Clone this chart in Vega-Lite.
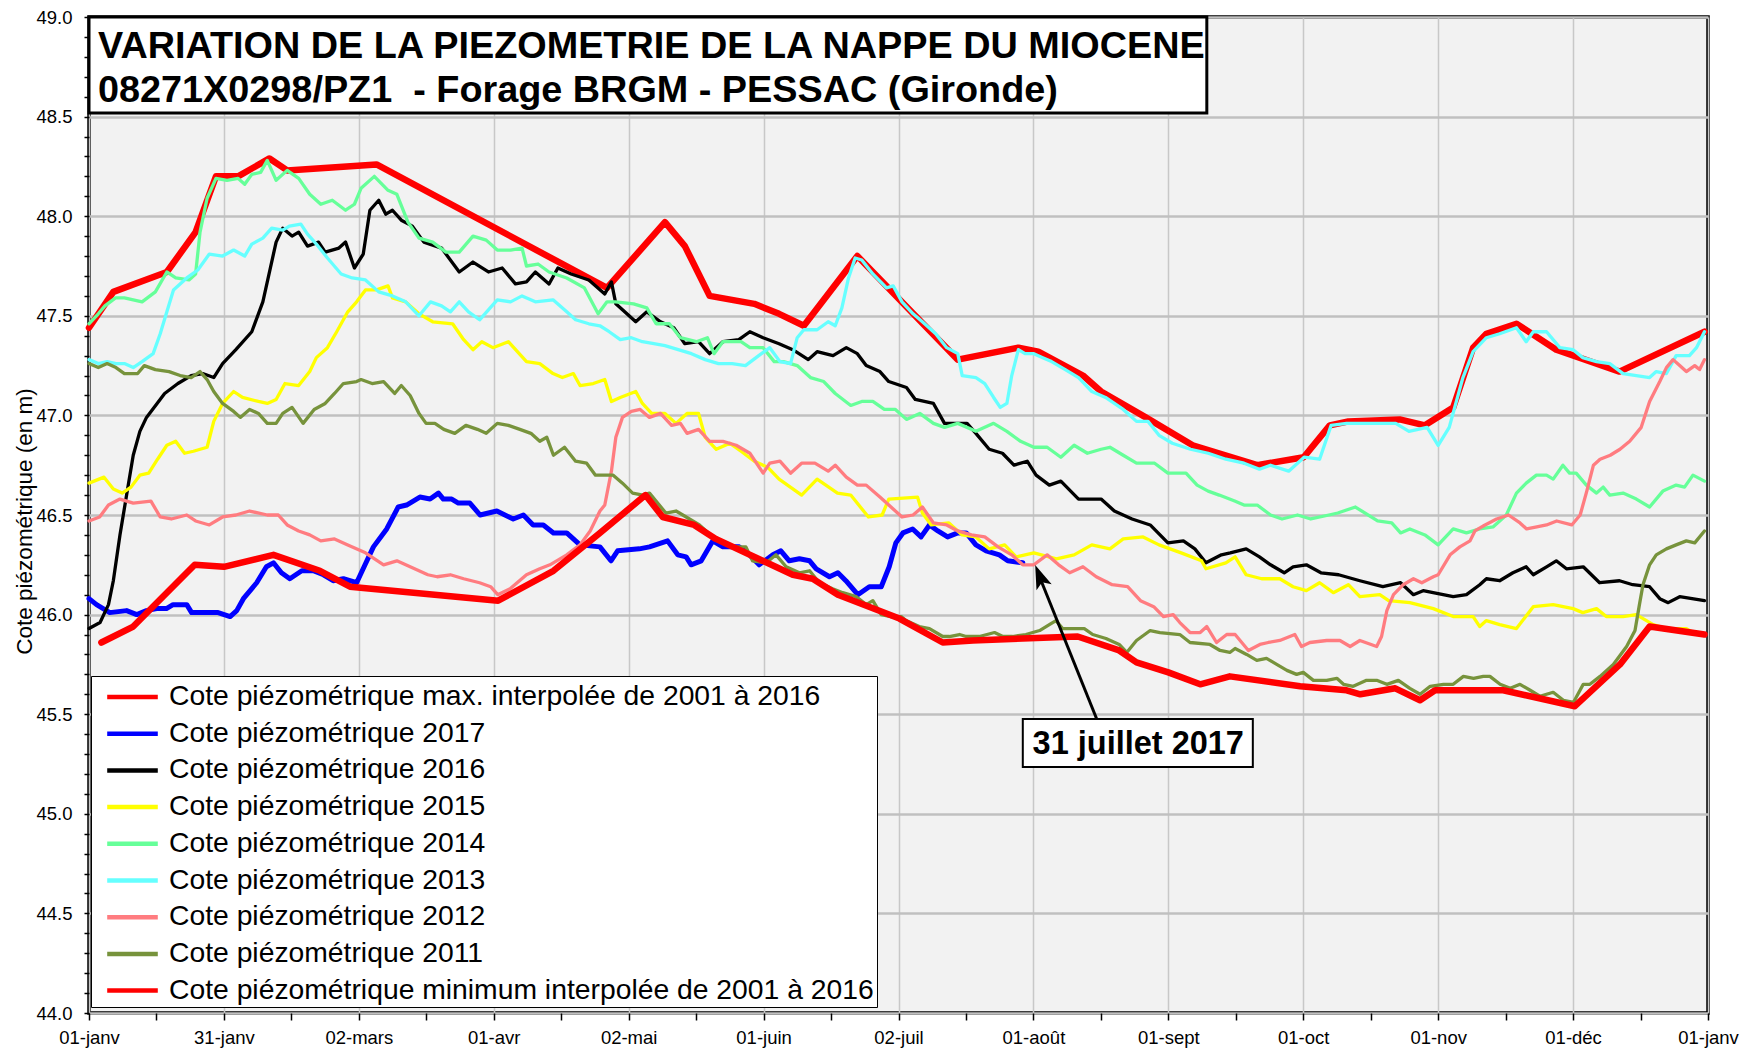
{
"$schema": "https://vega.github.io/schema/vega-lite/v6.json",
"width": 1619,
"height": 996,
"autosize": "none",
"padding": {"left": 89, "top": 17, "right": 35, "bottom": 50},
"background": "#ffffff",
"config": {
  "view": {"fill": "#f2f2f2", "stroke": "#000000", "strokeWidth": 3.5},
  "font": "Liberation Sans"
},
"data": {"values": [
{"s":"max","d":0,"v":47.44},{"s":"max","d":5.5,"v":47.62},{"s":"max","d":17.6,"v":47.72},{"s":"max","d":24.1,"v":47.92},{"s":"max","d":28.7,"v":48.2},{"s":"max","d":33.7,"v":48.2},{"s":"max","d":40.8,"v":48.29},{"s":"max","d":44.8,"v":48.23},{"s":"max","d":65,"v":48.26},{"s":"max","d":117.1,"v":47.64},{"s":"max","d":130.2,"v":47.97},{"s":"max","d":134.7,"v":47.85},{"s":"max","d":140.3,"v":47.6},{"s":"max","d":150.4,"v":47.56},{"s":"max","d":156,"v":47.51},{"s":"max","d":161.6,"v":47.45},{"s":"max","d":173.7,"v":47.8},{"s":"max","d":196.4,"v":47.28},{"s":"max","d":210.1,"v":47.34},{"s":"max","d":214.6,"v":47.32},{"s":"max","d":224.7,"v":47.2},{"s":"max","d":228.8,"v":47.12},{"s":"max","d":238.9,"v":46.99},{"s":"max","d":249.5,"v":46.85},{"s":"max","d":264.1,"v":46.75},{"s":"max","d":274.6,"v":46.79},{"s":"max","d":280.5,"v":46.95},{"s":"max","d":284.7,"v":46.97},{"s":"max","d":296.3,"v":46.98},{"s":"max","d":302,"v":46.95},{"s":"max","d":308.4,"v":47.04},{"s":"max","d":312.9,"v":47.34},{"s":"max","d":315.9,"v":47.41},{"s":"max","d":322.7,"v":47.46},{"s":"max","d":331.7,"v":47.33},{"s":"max","d":346,"v":47.22},{"s":"max","d":365.2,"v":47.42},
{"s":"2017","d":0,"v":46.08},{"s":"2017","d":1.7,"v":46.05},{"s":"2017","d":4.7,"v":46.01},{"s":"2017","d":8.5,"v":46.02},{"s":"2017","d":10.8,"v":46.0},{"s":"2017","d":13,"v":46.02},{"s":"2017","d":15.3,"v":46.03},{"s":"2017","d":17.5,"v":46.03},{"s":"2017","d":19,"v":46.05},{"s":"2017","d":22.1,"v":46.05},{"s":"2017","d":23.2,"v":46.01},{"s":"2017","d":29.2,"v":46.01},{"s":"2017","d":31.9,"v":45.99},{"s":"2017","d":33.4,"v":46.02},{"s":"2017","d":34.9,"v":46.08},{"s":"2017","d":37.9,"v":46.16},{"s":"2017","d":40.1,"v":46.24},{"s":"2017","d":41.7,"v":46.26},{"s":"2017","d":43.5,"v":46.21},{"s":"2017","d":45.4,"v":46.18},{"s":"2017","d":48.1,"v":46.22},{"s":"2017","d":50.7,"v":46.22},{"s":"2017","d":53,"v":46.2},{"s":"2017","d":55.2,"v":46.17},{"s":"2017","d":57.5,"v":46.18},{"s":"2017","d":60.5,"v":46.16},{"s":"2017","d":62.4,"v":46.25},{"s":"2017","d":64.3,"v":46.34},{"s":"2017","d":67.3,"v":46.43},{"s":"2017","d":69.9,"v":46.54},{"s":"2017","d":71.8,"v":46.55},{"s":"2017","d":73.3,"v":46.57},{"s":"2017","d":74.8,"v":46.59},{"s":"2017","d":77.1,"v":46.58},{"s":"2017","d":79,"v":46.61},{"s":"2017","d":80.1,"v":46.58},{"s":"2017","d":82,"v":46.58},{"s":"2017","d":83.5,"v":46.56},{"s":"2017","d":86.1,"v":46.56},{"s":"2017","d":88.4,"v":46.5},{"s":"2017","d":92.2,"v":46.52},{"s":"2017","d":95.9,"v":46.48},{"s":"2017","d":98.2,"v":46.5},{"s":"2017","d":100.4,"v":46.45},{"s":"2017","d":102.7,"v":46.45},{"s":"2017","d":105,"v":46.41},{"s":"2017","d":108,"v":46.41},{"s":"2017","d":111,"v":46.35},{"s":"2017","d":115.5,"v":46.34},{"s":"2017","d":118,"v":46.27},{"s":"2017","d":119.5,"v":46.32},{"s":"2017","d":124.4,"v":46.33},{"s":"2017","d":126.7,"v":46.34},{"s":"2017","d":130.8,"v":46.37},{"s":"2017","d":133.1,"v":46.3},{"s":"2017","d":135,"v":46.29},{"s":"2017","d":136.1,"v":46.25},{"s":"2017","d":138.4,"v":46.27},{"s":"2017","d":141,"v":46.37},{"s":"2017","d":143.3,"v":46.34},{"s":"2017","d":147,"v":46.34},{"s":"2017","d":149.3,"v":46.3},{"s":"2017","d":151.5,"v":46.25},{"s":"2017","d":154.6,"v":46.3},{"s":"2017","d":156.4,"v":46.32},{"s":"2017","d":158.3,"v":46.27},{"s":"2017","d":160.6,"v":46.28},{"s":"2017","d":162.9,"v":46.27},{"s":"2017","d":164.4,"v":46.23},{"s":"2017","d":167.4,"v":46.19},{"s":"2017","d":169.3,"v":46.21},{"s":"2017","d":171.1,"v":46.17},{"s":"2017","d":173.8,"v":46.1},{"s":"2017","d":176.4,"v":46.14},{"s":"2017","d":179.1,"v":46.14},{"s":"2017","d":180.9,"v":46.24},{"s":"2017","d":182.4,"v":46.36},{"s":"2017","d":184,"v":46.41},{"s":"2017","d":186.2,"v":46.43},{"s":"2017","d":188.1,"v":46.39},{"s":"2017","d":190,"v":46.45},{"s":"2017","d":191.9,"v":46.42},{"s":"2017","d":194.1,"v":46.39},{"s":"2017","d":196.4,"v":46.41},{"s":"2017","d":198.3,"v":46.41},{"s":"2017","d":200.5,"v":46.35},{"s":"2017","d":202.8,"v":46.32},{"s":"2017","d":205.8,"v":46.3},{"s":"2017","d":207.7,"v":46.27},{"s":"2017","d":211.1,"v":46.26},
{"s":"2016","d":0,"v":45.93},{"s":"2016","d":2.5,"v":45.96},{"s":"2016","d":4.4,"v":46.05},{"s":"2016","d":5.5,"v":46.17},{"s":"2016","d":7,"v":46.4},{"s":"2016","d":8.5,"v":46.6},{"s":"2016","d":10,"v":46.8},{"s":"2016","d":11.5,"v":46.92},{"s":"2016","d":13,"v":46.99},{"s":"2016","d":17.1,"v":47.11},{"s":"2016","d":20.1,"v":47.16},{"s":"2016","d":23.1,"v":47.2},{"s":"2016","d":25.7,"v":47.21},{"s":"2016","d":28.2,"v":47.19},{"s":"2016","d":30.2,"v":47.26},{"s":"2016","d":33.2,"v":47.33},{"s":"2016","d":36.8,"v":47.42},{"s":"2016","d":39.3,"v":47.57},{"s":"2016","d":42.3,"v":47.87},{"s":"2016","d":43.8,"v":47.94},{"s":"2016","d":45.9,"v":47.9},{"s":"2016","d":47.4,"v":47.92},{"s":"2016","d":49.4,"v":47.85},{"s":"2016","d":51.9,"v":47.87},{"s":"2016","d":53.4,"v":47.82},{"s":"2016","d":56.5,"v":47.84},{"s":"2016","d":58,"v":47.87},{"s":"2016","d":60,"v":47.74},{"s":"2016","d":62,"v":47.81},{"s":"2016","d":63.5,"v":48.03},{"s":"2016","d":65.5,"v":48.08},{"s":"2016","d":67.1,"v":48.01},{"s":"2016","d":68.6,"v":48.03},{"s":"2016","d":70.6,"v":47.98},{"s":"2016","d":73.1,"v":47.95},{"s":"2016","d":75.7,"v":47.87},{"s":"2016","d":79.7,"v":47.84},{"s":"2016","d":83.7,"v":47.72},{"s":"2016","d":86.8,"v":47.77},{"s":"2016","d":90.3,"v":47.72},{"s":"2016","d":93.4,"v":47.74},{"s":"2016","d":96.4,"v":47.66},{"s":"2016","d":98.9,"v":47.67},{"s":"2016","d":100.9,"v":47.72},{"s":"2016","d":104,"v":47.66},{"s":"2016","d":106,"v":47.74},{"s":"2016","d":109,"v":47.71},{"s":"2016","d":113,"v":47.68},{"s":"2016","d":116.6,"v":47.61},{"s":"2016","d":118.1,"v":47.67},{"s":"2016","d":119.1,"v":47.56},{"s":"2016","d":123.6,"v":47.47},{"s":"2016","d":126.1,"v":47.52},{"s":"2016","d":129.2,"v":47.47},{"s":"2016","d":132.2,"v":47.44},{"s":"2016","d":134.7,"v":47.36},{"s":"2016","d":137.8,"v":47.37},{"s":"2016","d":140.3,"v":47.31},{"s":"2016","d":143.3,"v":47.37},{"s":"2016","d":146.9,"v":47.38},{"s":"2016","d":149.4,"v":47.42},{"s":"2016","d":152.4,"v":47.39},{"s":"2016","d":156,"v":47.36},{"s":"2016","d":159.1,"v":47.33},{"s":"2016","d":162.6,"v":47.28},{"s":"2016","d":164.6,"v":47.32},{"s":"2016","d":168.2,"v":47.3},{"s":"2016","d":171.2,"v":47.34},{"s":"2016","d":173.7,"v":47.31},{"s":"2016","d":175.7,"v":47.25},{"s":"2016","d":178.8,"v":47.22},{"s":"2016","d":180.8,"v":47.17},{"s":"2016","d":184.8,"v":47.14},{"s":"2016","d":186.8,"v":47.08},{"s":"2016","d":190.9,"v":47.06},{"s":"2016","d":193.4,"v":46.96},{"s":"2016","d":198.5,"v":46.96},{"s":"2016","d":200.5,"v":46.91},{"s":"2016","d":203.5,"v":46.83},{"s":"2016","d":206.5,"v":46.81},{"s":"2016","d":209.1,"v":46.75},{"s":"2016","d":212.1,"v":46.77},{"s":"2016","d":214.1,"v":46.7},{"s":"2016","d":217.1,"v":46.65},{"s":"2016","d":219.7,"v":46.67},{"s":"2016","d":223.7,"v":46.58},{"s":"2016","d":228.8,"v":46.58},{"s":"2016","d":231.8,"v":46.52},{"s":"2016","d":235.8,"v":46.48},{"s":"2016","d":239.9,"v":46.45},{"s":"2016","d":243.9,"v":46.36},{"s":"2016","d":247.4,"v":46.37},{"s":"2016","d":250,"v":46.33},{"s":"2016","d":252.5,"v":46.26},{"s":"2016","d":256,"v":46.3},{"s":"2016","d":258,"v":46.31},{"s":"2016","d":261.6,"v":46.33},{"s":"2016","d":264.6,"v":46.29},{"s":"2016","d":267.1,"v":46.25},{"s":"2016","d":270.2,"v":46.21},{"s":"2016","d":272.2,"v":46.24},{"s":"2016","d":275.2,"v":46.25},{"s":"2016","d":278.5,"v":46.21},{"s":"2016","d":282.5,"v":46.2},{"s":"2016","d":287.3,"v":46.17},{"s":"2016","d":292.5,"v":46.14},{"s":"2016","d":296.5,"v":46.16},{"s":"2016","d":299.4,"v":46.1},{"s":"2016","d":301.6,"v":46.12},{"s":"2016","d":308.4,"v":46.09},{"s":"2016","d":311.4,"v":46.1},{"s":"2016","d":314.4,"v":46.15},{"s":"2016","d":315.9,"v":46.18},{"s":"2016","d":318.9,"v":46.17},{"s":"2016","d":321.9,"v":46.21},{"s":"2016","d":324.9,"v":46.24},{"s":"2016","d":326.5,"v":46.2},{"s":"2016","d":329.5,"v":46.24},{"s":"2016","d":331.7,"v":46.27},{"s":"2016","d":334,"v":46.23},{"s":"2016","d":337.8,"v":46.24},{"s":"2016","d":341.5,"v":46.16},{"s":"2016","d":346,"v":46.17},{"s":"2016","d":349,"v":46.15},{"s":"2016","d":352.8,"v":46.14},{"s":"2016","d":355.1,"v":46.08},{"s":"2016","d":357,"v":46.06},{"s":"2016","d":359.6,"v":46.09},{"s":"2016","d":365.2,"v":46.07},
{"s":"2015","d":0,"v":46.66},{"s":"2015","d":3.4,"v":46.69},{"s":"2015","d":5.5,"v":46.63},{"s":"2015","d":7.5,"v":46.61},{"s":"2015","d":9.5,"v":46.64},{"s":"2015","d":11.5,"v":46.7},{"s":"2015","d":13.5,"v":46.71},{"s":"2015","d":15.5,"v":46.78},{"s":"2015","d":17.6,"v":46.85},{"s":"2015","d":19.6,"v":46.87},{"s":"2015","d":21.6,"v":46.81},{"s":"2015","d":23.6,"v":46.82},{"s":"2015","d":26.7,"v":46.84},{"s":"2015","d":28.2,"v":46.97},{"s":"2015","d":30.2,"v":47.06},{"s":"2015","d":32.7,"v":47.12},{"s":"2015","d":34.7,"v":47.09},{"s":"2015","d":38.3,"v":47.07},{"s":"2015","d":40.3,"v":47.06},{"s":"2015","d":42.3,"v":47.08},{"s":"2015","d":44.3,"v":47.16},{"s":"2015","d":47.4,"v":47.15},{"s":"2015","d":49.9,"v":47.22},{"s":"2015","d":51.4,"v":47.29},{"s":"2015","d":53.9,"v":47.34},{"s":"2015","d":56,"v":47.42},{"s":"2015","d":58.5,"v":47.52},{"s":"2015","d":60.5,"v":47.57},{"s":"2015","d":62.5,"v":47.63},{"s":"2015","d":65,"v":47.63},{"s":"2015","d":67.6,"v":47.65},{"s":"2015","d":68.6,"v":47.59},{"s":"2015","d":71.6,"v":47.57},{"s":"2015","d":74.6,"v":47.51},{"s":"2015","d":77.7,"v":47.47},{"s":"2015","d":82.2,"v":47.46},{"s":"2015","d":84.7,"v":47.38},{"s":"2015","d":86.8,"v":47.33},{"s":"2015","d":88.8,"v":47.37},{"s":"2015","d":91.3,"v":47.34},{"s":"2015","d":94.8,"v":47.37},{"s":"2015","d":98.9,"v":47.27},{"s":"2015","d":101.9,"v":47.26},{"s":"2015","d":104.9,"v":47.21},{"s":"2015","d":107,"v":47.19},{"s":"2015","d":109.5,"v":47.21},{"s":"2015","d":111,"v":47.15},{"s":"2015","d":114,"v":47.16},{"s":"2015","d":116.6,"v":47.18},{"s":"2015","d":118.1,"v":47.07},{"s":"2015","d":120.1,"v":47.09},{"s":"2015","d":123.6,"v":47.12},{"s":"2015","d":125.1,"v":47.06},{"s":"2015","d":127.2,"v":47.01},{"s":"2015","d":130.2,"v":47.01},{"s":"2015","d":132.7,"v":46.96},{"s":"2015","d":135.2,"v":47.01},{"s":"2015","d":137.8,"v":47.01},{"s":"2015","d":139.3,"v":46.89},{"s":"2015","d":141.8,"v":46.83},{"s":"2015","d":144.9,"v":46.86},{"s":"2015","d":147.4,"v":46.82},{"s":"2015","d":150.4,"v":46.77},{"s":"2015","d":153.4,"v":46.74},{"s":"2015","d":156,"v":46.68},{"s":"2015","d":161.1,"v":46.6},{"s":"2015","d":164.6,"v":46.68},{"s":"2015","d":169.2,"v":46.61},{"s":"2015","d":172.2,"v":46.6},{"s":"2015","d":176.2,"v":46.49},{"s":"2015","d":179.3,"v":46.5},{"s":"2015","d":180.8,"v":46.58},{"s":"2015","d":187.3,"v":46.59},{"s":"2015","d":188.4,"v":46.51},{"s":"2015","d":190.4,"v":46.45},{"s":"2015","d":194.4,"v":46.46},{"s":"2015","d":197.4,"v":46.4},{"s":"2015","d":200.5,"v":46.39},{"s":"2015","d":203.5,"v":46.33},{"s":"2015","d":207,"v":46.35},{"s":"2015","d":209.6,"v":46.29},{"s":"2015","d":213.6,"v":46.31},{"s":"2015","d":218.7,"v":46.28},{"s":"2015","d":222.7,"v":46.3},{"s":"2015","d":226.7,"v":46.35},{"s":"2015","d":230.8,"v":46.33},{"s":"2015","d":233.8,"v":46.38},{"s":"2015","d":238.3,"v":46.39},{"s":"2015","d":241.9,"v":46.35},{"s":"2015","d":246.9,"v":46.31},{"s":"2015","d":251.5,"v":46.27},{"s":"2015","d":252.5,"v":46.23},{"s":"2015","d":257,"v":46.26},{"s":"2015","d":259.1,"v":46.29},{"s":"2015","d":261.6,"v":46.2},{"s":"2015","d":265.1,"v":46.18},{"s":"2015","d":269.2,"v":46.18},{"s":"2015","d":272.2,"v":46.14},{"s":"2015","d":275.2,"v":46.12},{"s":"2015","d":278.2,"v":46.16},{"s":"2015","d":281.3,"v":46.11},{"s":"2015","d":284.7,"v":46.15},{"s":"2015","d":287.3,"v":46.09},{"s":"2015","d":291.8,"v":46.1},{"s":"2015","d":293.8,"v":46.07},{"s":"2015","d":298.6,"v":46.06},{"s":"2015","d":303.9,"v":46.03},{"s":"2015","d":308.4,"v":45.99},{"s":"2015","d":312.9,"v":45.99},{"s":"2015","d":314.4,"v":45.94},{"s":"2015","d":315.9,"v":45.97},{"s":"2015","d":318.9,"v":45.95},{"s":"2015","d":322.7,"v":45.93},{"s":"2015","d":326.5,"v":46.04},{"s":"2015","d":331,"v":46.05},{"s":"2015","d":335.5,"v":46.03},{"s":"2015","d":337.7,"v":46.01},{"s":"2015","d":340.8,"v":46.03},{"s":"2015","d":343,"v":45.99},{"s":"2015","d":346.8,"v":45.99},{"s":"2015","d":349.8,"v":46.0},{"s":"2015","d":353.6,"v":45.95},{"s":"2015","d":356.6,"v":45.93},{"s":"2015","d":361.1,"v":45.93},{"s":"2015","d":362.6,"v":45.91},
{"s":"2014","d":0,"v":47.46},{"s":"2014","d":2.1,"v":47.51},{"s":"2014","d":3.6,"v":47.55},{"s":"2014","d":6,"v":47.59},{"s":"2014","d":8,"v":47.59},{"s":"2014","d":12,"v":47.57},{"s":"2014","d":15,"v":47.62},{"s":"2014","d":17.6,"v":47.72},{"s":"2014","d":19.6,"v":47.69},{"s":"2014","d":22.6,"v":47.68},{"s":"2014","d":24.1,"v":47.71},{"s":"2014","d":25.1,"v":47.92},{"s":"2014","d":26.7,"v":48.09},{"s":"2014","d":28.7,"v":48.19},{"s":"2014","d":31.2,"v":48.18},{"s":"2014","d":33.7,"v":48.19},{"s":"2014","d":35.2,"v":48.16},{"s":"2014","d":36.8,"v":48.21},{"s":"2014","d":38.8,"v":48.22},{"s":"2014","d":40.3,"v":48.28},{"s":"2014","d":42.3,"v":48.18},{"s":"2014","d":44.8,"v":48.23},{"s":"2014","d":47.4,"v":48.19},{"s":"2014","d":49.9,"v":48.11},{"s":"2014","d":52.4,"v":48.06},{"s":"2014","d":55,"v":48.08},{"s":"2014","d":58,"v":48.03},{"s":"2014","d":60,"v":48.06},{"s":"2014","d":61.5,"v":48.14},{"s":"2014","d":64.5,"v":48.2},{"s":"2014","d":67.6,"v":48.13},{"s":"2014","d":69.6,"v":48.11},{"s":"2014","d":72.1,"v":47.97},{"s":"2014","d":74.6,"v":47.89},{"s":"2014","d":77.7,"v":47.87},{"s":"2014","d":80.7,"v":47.82},{"s":"2014","d":83.7,"v":47.82},{"s":"2014","d":86.8,"v":47.9},{"s":"2014","d":89.8,"v":47.88},{"s":"2014","d":92.3,"v":47.83},{"s":"2014","d":95.3,"v":47.83},{"s":"2014","d":97.9,"v":47.84},{"s":"2014","d":98.9,"v":47.75},{"s":"2014","d":101.5,"v":47.76},{"s":"2014","d":104,"v":47.72},{"s":"2014","d":108,"v":47.69},{"s":"2014","d":112,"v":47.64},{"s":"2014","d":115.1,"v":47.51},{"s":"2014","d":117.1,"v":47.57},{"s":"2014","d":119.1,"v":47.57},{"s":"2014","d":123.1,"v":47.56},{"s":"2014","d":126.1,"v":47.54},{"s":"2014","d":128.2,"v":47.46},{"s":"2014","d":131.2,"v":47.46},{"s":"2014","d":133.7,"v":47.39},{"s":"2014","d":137.3,"v":47.37},{"s":"2014","d":139.8,"v":47.39},{"s":"2014","d":141.3,"v":47.31},{"s":"2014","d":143.3,"v":47.37},{"s":"2014","d":147.4,"v":47.37},{"s":"2014","d":149.4,"v":47.34},{"s":"2014","d":152.4,"v":47.34},{"s":"2014","d":154.9,"v":47.27},{"s":"2014","d":157,"v":47.27},{"s":"2014","d":160.1,"v":47.25},{"s":"2014","d":163.1,"v":47.19},{"s":"2014","d":166.1,"v":47.17},{"s":"2014","d":168.7,"v":47.11},{"s":"2014","d":172.2,"v":47.05},{"s":"2014","d":174.7,"v":47.07},{"s":"2014","d":177.2,"v":47.07},{"s":"2014","d":179.8,"v":47.03},{"s":"2014","d":182.3,"v":47.03},{"s":"2014","d":184.8,"v":46.98},{"s":"2014","d":187.8,"v":47.01},{"s":"2014","d":190.9,"v":46.96},{"s":"2014","d":193.4,"v":46.94},{"s":"2014","d":196.4,"v":46.96},{"s":"2014","d":200.5,"v":46.92},{"s":"2014","d":204.5,"v":46.96},{"s":"2014","d":207.5,"v":46.92},{"s":"2014","d":210.6,"v":46.87},{"s":"2014","d":213.6,"v":46.84},{"s":"2014","d":216.6,"v":46.84},{"s":"2014","d":219.7,"v":46.79},{"s":"2014","d":222.7,"v":46.85},{"s":"2014","d":225.7,"v":46.81},{"s":"2014","d":228.8,"v":46.83},{"s":"2014","d":230.8,"v":46.84},{"s":"2014","d":233.8,"v":46.8},{"s":"2014","d":236.8,"v":46.76},{"s":"2014","d":240.9,"v":46.76},{"s":"2014","d":243.9,"v":46.71},{"s":"2014","d":248,"v":46.71},{"s":"2014","d":250.5,"v":46.65},{"s":"2014","d":253,"v":46.62},{"s":"2014","d":255.5,"v":46.6},{"s":"2014","d":259,"v":46.57},{"s":"2014","d":261.1,"v":46.55},{"s":"2014","d":264.1,"v":46.55},{"s":"2014","d":267.1,"v":46.5},{"s":"2014","d":269.7,"v":46.48},{"s":"2014","d":273.2,"v":46.5},{"s":"2014","d":276.2,"v":46.48},{"s":"2014","d":280.3,"v":46.5},{"s":"2014","d":282.3,"v":46.51},{"s":"2014","d":286.3,"v":46.54},{"s":"2014","d":291.3,"v":46.47},{"s":"2014","d":294.5,"v":46.46},{"s":"2014","d":296.5,"v":46.41},{"s":"2014","d":298.6,"v":46.43},{"s":"2014","d":302,"v":46.4},{"s":"2014","d":305,"v":46.35},{"s":"2014","d":308.4,"v":46.43},{"s":"2014","d":311.4,"v":46.41},{"s":"2014","d":314.4,"v":46.43},{"s":"2014","d":317.4,"v":46.44},{"s":"2014","d":320.4,"v":46.5},{"s":"2014","d":322.7,"v":46.61},{"s":"2014","d":324.9,"v":46.66},{"s":"2014","d":327.2,"v":46.7},{"s":"2014","d":329.5,"v":46.7},{"s":"2014","d":331,"v":46.68},{"s":"2014","d":333.2,"v":46.75},{"s":"2014","d":334.7,"v":46.71},{"s":"2014","d":336.2,"v":46.71},{"s":"2014","d":338.5,"v":46.65},{"s":"2014","d":340.8,"v":46.61},{"s":"2014","d":342.3,"v":46.64},{"s":"2014","d":343.8,"v":46.6},{"s":"2014","d":346.8,"v":46.61},{"s":"2014","d":349.8,"v":46.58},{"s":"2014","d":352.8,"v":46.54},{"s":"2014","d":355.8,"v":46.62},{"s":"2014","d":358.8,"v":46.65},{"s":"2014","d":360.7,"v":46.64},{"s":"2014","d":362.6,"v":46.7},{"s":"2014","d":365.2,"v":46.67},
{"s":"2013","d":0,"v":47.28},{"s":"2013","d":2.1,"v":47.26},{"s":"2013","d":4.1,"v":47.27},{"s":"2013","d":6.1,"v":47.26},{"s":"2013","d":8,"v":47.26},{"s":"2013","d":10,"v":47.24},{"s":"2013","d":12,"v":47.27},{"s":"2013","d":14.5,"v":47.31},{"s":"2013","d":16.1,"v":47.41},{"s":"2013","d":17.6,"v":47.52},{"s":"2013","d":19.1,"v":47.63},{"s":"2013","d":22.1,"v":47.69},{"s":"2013","d":24.6,"v":47.73},{"s":"2013","d":27.2,"v":47.81},{"s":"2013","d":30.2,"v":47.8},{"s":"2013","d":32.7,"v":47.83},{"s":"2013","d":35.2,"v":47.8},{"s":"2013","d":36.8,"v":47.86},{"s":"2013","d":39.3,"v":47.89},{"s":"2013","d":41.3,"v":47.94},{"s":"2013","d":43.8,"v":47.93},{"s":"2013","d":45.3,"v":47.95},{"s":"2013","d":47.9,"v":47.96},{"s":"2013","d":49.4,"v":47.91},{"s":"2013","d":51.4,"v":47.86},{"s":"2013","d":53.9,"v":47.79},{"s":"2013","d":57,"v":47.71},{"s":"2013","d":59.5,"v":47.69},{"s":"2013","d":62.5,"v":47.68},{"s":"2013","d":65.5,"v":47.62},{"s":"2013","d":68.6,"v":47.6},{"s":"2013","d":71.6,"v":47.57},{"s":"2013","d":74.6,"v":47.5},{"s":"2013","d":77.2,"v":47.57},{"s":"2013","d":79.7,"v":47.55},{"s":"2013","d":81.7,"v":47.52},{"s":"2013","d":83.7,"v":47.57},{"s":"2013","d":85.8,"v":47.52},{"s":"2013","d":88.3,"v":47.48},{"s":"2013","d":90.3,"v":47.53},{"s":"2013","d":92.3,"v":47.58},{"s":"2013","d":95.3,"v":47.57},{"s":"2013","d":97.9,"v":47.6},{"s":"2013","d":100.9,"v":47.57},{"s":"2013","d":104.9,"v":47.58},{"s":"2013","d":108,"v":47.52},{"s":"2013","d":110,"v":47.48},{"s":"2013","d":113,"v":47.46},{"s":"2013","d":115.5,"v":47.45},{"s":"2013","d":117.6,"v":47.42},{"s":"2013","d":120.1,"v":47.38},{"s":"2013","d":122.6,"v":47.39},{"s":"2013","d":125.1,"v":47.37},{"s":"2013","d":127.7,"v":47.36},{"s":"2013","d":130.2,"v":47.35},{"s":"2013","d":133.2,"v":47.33},{"s":"2013","d":136.2,"v":47.31},{"s":"2013","d":139.3,"v":47.28},{"s":"2013","d":142.3,"v":47.26},{"s":"2013","d":145.4,"v":47.26},{"s":"2013","d":148.4,"v":47.25},{"s":"2013","d":151.4,"v":47.3},{"s":"2013","d":153.9,"v":47.34},{"s":"2013","d":156.2,"v":47.27},{"s":"2013","d":158.6,"v":47.26},{"s":"2013","d":160.1,"v":47.39},{"s":"2013","d":161.6,"v":47.43},{"s":"2013","d":164.6,"v":47.43},{"s":"2013","d":167.1,"v":47.47},{"s":"2013","d":168.7,"v":47.45},{"s":"2013","d":170.2,"v":47.54},{"s":"2013","d":171.7,"v":47.69},{"s":"2013","d":173.2,"v":47.79},{"s":"2013","d":174.7,"v":47.78},{"s":"2013","d":177.2,"v":47.71},{"s":"2013","d":180.3,"v":47.64},{"s":"2013","d":181.8,"v":47.65},{"s":"2013","d":183.8,"v":47.57},{"s":"2013","d":186.3,"v":47.51},{"s":"2013","d":188.4,"v":47.47},{"s":"2013","d":191.4,"v":47.41},{"s":"2013","d":193.9,"v":47.34},{"s":"2013","d":196.4,"v":47.31},{"s":"2013","d":197.4,"v":47.2},{"s":"2013","d":200.5,"v":47.19},{"s":"2013","d":202.5,"v":47.16},{"s":"2013","d":204.5,"v":47.09},{"s":"2013","d":206,"v":47.04},{"s":"2013","d":207.5,"v":47.06},{"s":"2013","d":208.6,"v":47.2},{"s":"2013","d":210.1,"v":47.33},{"s":"2013","d":211.6,"v":47.31},{"s":"2013","d":213.6,"v":47.31},{"s":"2013","d":215.6,"v":47.29},{"s":"2013","d":217.6,"v":47.27},{"s":"2013","d":220.7,"v":47.23},{"s":"2013","d":223.7,"v":47.19},{"s":"2013","d":226.7,"v":47.12},{"s":"2013","d":229.8,"v":47.09},{"s":"2013","d":233.8,"v":47.03},{"s":"2013","d":236.8,"v":46.97},{"s":"2013","d":239.4,"v":46.97},{"s":"2013","d":241.9,"v":46.9},{"s":"2013","d":244.9,"v":46.86},{"s":"2013","d":249,"v":46.83},{"s":"2013","d":253,"v":46.81},{"s":"2013","d":257,"v":46.78},{"s":"2013","d":261.1,"v":46.76},{"s":"2013","d":264.6,"v":46.73},{"s":"2013","d":267.1,"v":46.75},{"s":"2013","d":271.2,"v":46.72},{"s":"2013","d":274.7,"v":46.79},{"s":"2013","d":278.2,"v":46.78},{"s":"2013","d":280.8,"v":46.95},{"s":"2013","d":284.3,"v":46.96},{"s":"2013","d":287.3,"v":46.96},{"s":"2013","d":291.4,"v":46.96},{"s":"2013","d":295.4,"v":46.96},{"s":"2013","d":298.4,"v":46.92},{"s":"2013","d":302.5,"v":46.94},{"s":"2013","d":305,"v":46.85},{"s":"2013","d":307.5,"v":46.94},{"s":"2013","d":310.6,"v":47.19},{"s":"2013","d":312.9,"v":47.32},{"s":"2013","d":315.9,"v":47.39},{"s":"2013","d":318.9,"v":47.41},{"s":"2013","d":322.7,"v":47.44},{"s":"2013","d":324.9,"v":47.37},{"s":"2013","d":326.5,"v":47.42},{"s":"2013","d":329.5,"v":47.42},{"s":"2013","d":332.5,"v":47.34},{"s":"2013","d":335.5,"v":47.33},{"s":"2013","d":337.7,"v":47.29},{"s":"2013","d":340.8,"v":47.27},{"s":"2013","d":343.8,"v":47.26},{"s":"2013","d":346.8,"v":47.21},{"s":"2013","d":349.8,"v":47.2},{"s":"2013","d":352.8,"v":47.19},{"s":"2013","d":354.3,"v":47.22},{"s":"2013","d":356.6,"v":47.21},{"s":"2013","d":358.8,"v":47.3},{"s":"2013","d":361.8,"v":47.3},{"s":"2013","d":363.4,"v":47.34},{"s":"2013","d":365.2,"v":47.42},
{"s":"2012","d":0,"v":46.47},{"s":"2012","d":2.4,"v":46.49},{"s":"2012","d":4.4,"v":46.55},{"s":"2012","d":7,"v":46.58},{"s":"2012","d":10,"v":46.56},{"s":"2012","d":14,"v":46.57},{"s":"2012","d":16.1,"v":46.49},{"s":"2012","d":18.6,"v":46.48},{"s":"2012","d":22.1,"v":46.5},{"s":"2012","d":24.1,"v":46.47},{"s":"2012","d":27.2,"v":46.45},{"s":"2012","d":30.2,"v":46.49},{"s":"2012","d":33.2,"v":46.5},{"s":"2012","d":36.3,"v":46.52},{"s":"2012","d":40.3,"v":46.5},{"s":"2012","d":42.8,"v":46.5},{"s":"2012","d":44.8,"v":46.45},{"s":"2012","d":47.4,"v":46.42},{"s":"2012","d":49.9,"v":46.4},{"s":"2012","d":52.4,"v":46.37},{"s":"2012","d":55.5,"v":46.38},{"s":"2012","d":58.5,"v":46.35},{"s":"2012","d":62.5,"v":46.31},{"s":"2012","d":66.6,"v":46.25},{"s":"2012","d":69.6,"v":46.27},{"s":"2012","d":72.6,"v":46.24},{"s":"2012","d":76.6,"v":46.2},{"s":"2012","d":78.7,"v":46.19},{"s":"2012","d":81.7,"v":46.2},{"s":"2012","d":84.7,"v":46.18},{"s":"2012","d":88.3,"v":46.16},{"s":"2012","d":90.8,"v":46.14},{"s":"2012","d":92.4,"v":46.1},{"s":"2012","d":95.2,"v":46.13},{"s":"2012","d":98.9,"v":46.2},{"s":"2012","d":101.9,"v":46.23},{"s":"2012","d":104.2,"v":46.25},{"s":"2012","d":108,"v":46.3},{"s":"2012","d":111,"v":46.35},{"s":"2012","d":113.3,"v":46.42},{"s":"2012","d":115.5,"v":46.52},{"s":"2012","d":116.6,"v":46.55},{"s":"2012","d":118.1,"v":46.72},{"s":"2012","d":119.1,"v":46.89},{"s":"2012","d":120.6,"v":46.99},{"s":"2012","d":122.6,"v":47.02},{"s":"2012","d":124.6,"v":47.03},{"s":"2012","d":126.7,"v":46.99},{"s":"2012","d":129.2,"v":47.01},{"s":"2012","d":131.7,"v":46.95},{"s":"2012","d":133.7,"v":46.96},{"s":"2012","d":135.2,"v":46.91},{"s":"2012","d":137.8,"v":46.93},{"s":"2012","d":140.3,"v":46.87},{"s":"2012","d":143.3,"v":46.87},{"s":"2012","d":146.3,"v":46.85},{"s":"2012","d":149.4,"v":46.81},{"s":"2012","d":152.4,"v":46.71},{"s":"2012","d":153.9,"v":46.76},{"s":"2012","d":156.2,"v":46.77},{"s":"2012","d":158.6,"v":46.71},{"s":"2012","d":161.1,"v":46.76},{"s":"2012","d":164.1,"v":46.76},{"s":"2012","d":167.1,"v":46.72},{"s":"2012","d":168.7,"v":46.75},{"s":"2012","d":171.2,"v":46.69},{"s":"2012","d":173.7,"v":46.65},{"s":"2012","d":175.7,"v":46.65},{"s":"2012","d":178.8,"v":46.59},{"s":"2012","d":181.3,"v":46.54},{"s":"2012","d":183.8,"v":46.49},{"s":"2012","d":186.3,"v":46.5},{"s":"2012","d":188.4,"v":46.54},{"s":"2012","d":190.9,"v":46.46},{"s":"2012","d":193.9,"v":46.45},{"s":"2012","d":196.4,"v":46.42},{"s":"2012","d":199.5,"v":46.4},{"s":"2012","d":202.5,"v":46.39},{"s":"2012","d":205.5,"v":46.34},{"s":"2012","d":208.6,"v":46.3},{"s":"2012","d":211.1,"v":46.25},{"s":"2012","d":213.6,"v":46.25},{"s":"2012","d":216.6,"v":46.3},{"s":"2012","d":219.2,"v":46.25},{"s":"2012","d":221.7,"v":46.21},{"s":"2012","d":224.7,"v":46.24},{"s":"2012","d":227.7,"v":46.19},{"s":"2012","d":231.3,"v":46.15},{"s":"2012","d":234.8,"v":46.14},{"s":"2012","d":237.7,"v":46.07},{"s":"2012","d":240.7,"v":46.04},{"s":"2012","d":242.9,"v":45.99},{"s":"2012","d":245.1,"v":46.0},{"s":"2012","d":246.6,"v":45.96},{"s":"2012","d":248.9,"v":45.91},{"s":"2012","d":251.2,"v":45.91},{"s":"2012","d":252.7,"v":45.94},{"s":"2012","d":254.9,"v":45.86},{"s":"2012","d":257.2,"v":45.9},{"s":"2012","d":259.1,"v":45.9},{"s":"2012","d":262.1,"v":45.82},{"s":"2012","d":264.7,"v":45.85},{"s":"2012","d":266.6,"v":45.86},{"s":"2012","d":269.2,"v":45.87},{"s":"2012","d":272.6,"v":45.9},{"s":"2012","d":274.1,"v":45.84},{"s":"2012","d":276,"v":45.86},{"s":"2012","d":279.8,"v":45.87},{"s":"2012","d":282.8,"v":45.87},{"s":"2012","d":285.1,"v":45.84},{"s":"2012","d":287.3,"v":45.87},{"s":"2012","d":291.1,"v":45.84},{"s":"2012","d":292.2,"v":45.89},{"s":"2012","d":293.4,"v":46.02},{"s":"2012","d":294.9,"v":46.1},{"s":"2012","d":297.1,"v":46.15},{"s":"2012","d":299.4,"v":46.18},{"s":"2012","d":301.3,"v":46.16},{"s":"2012","d":303.9,"v":46.19},{"s":"2012","d":305,"v":46.2},{"s":"2012","d":307.7,"v":46.3},{"s":"2012","d":309.9,"v":46.34},{"s":"2012","d":312.2,"v":46.37},{"s":"2012","d":313.3,"v":46.42},{"s":"2012","d":315.6,"v":46.45},{"s":"2012","d":318.2,"v":46.48},{"s":"2012","d":320.9,"v":46.5},{"s":"2012","d":323.5,"v":46.46},{"s":"2012","d":325,"v":46.43},{"s":"2012","d":327.3,"v":46.44},{"s":"2012","d":329.5,"v":46.45},{"s":"2012","d":331.8,"v":46.47},{"s":"2012","d":335.2,"v":46.45},{"s":"2012","d":337.1,"v":46.5},{"s":"2012","d":338.6,"v":46.62},{"s":"2012","d":340.1,"v":46.75},{"s":"2012","d":341.6,"v":46.78},{"s":"2012","d":343.9,"v":46.8},{"s":"2012","d":346.1,"v":46.83},{"s":"2012","d":348.3,"v":46.87},{"s":"2012","d":350.9,"v":46.94},{"s":"2012","d":352.8,"v":47.07},{"s":"2012","d":355.1,"v":47.17},{"s":"2012","d":356.6,"v":47.24},{"s":"2012","d":358.1,"v":47.28},{"s":"2012","d":359.6,"v":47.25},{"s":"2012","d":361.1,"v":47.22},{"s":"2012","d":363,"v":47.25},{"s":"2012","d":364.1,"v":47.23},{"s":"2012","d":365.2,"v":47.28},
{"s":"2011","d":0,"v":47.26},{"s":"2011","d":2.1,"v":47.24},{"s":"2011","d":4.1,"v":47.26},{"s":"2011","d":6.1,"v":47.24},{"s":"2011","d":8,"v":47.21},{"s":"2011","d":11,"v":47.21},{"s":"2011","d":12.5,"v":47.25},{"s":"2011","d":15,"v":47.23},{"s":"2011","d":18.1,"v":47.22},{"s":"2011","d":20.6,"v":47.2},{"s":"2011","d":23.1,"v":47.19},{"s":"2011","d":25.1,"v":47.22},{"s":"2011","d":26.7,"v":47.18},{"s":"2011","d":28.2,"v":47.12},{"s":"2011","d":30.2,"v":47.06},{"s":"2011","d":32.7,"v":47.02},{"s":"2011","d":34.2,"v":46.99},{"s":"2011","d":36.3,"v":47.03},{"s":"2011","d":38.3,"v":47.01},{"s":"2011","d":40.3,"v":46.96},{"s":"2011","d":42.3,"v":46.96},{"s":"2011","d":43.8,"v":47.01},{"s":"2011","d":45.9,"v":47.04},{"s":"2011","d":48.4,"v":46.96},{"s":"2011","d":50.9,"v":47.03},{"s":"2011","d":53.4,"v":47.06},{"s":"2011","d":55.5,"v":47.11},{"s":"2011","d":57.5,"v":47.16},{"s":"2011","d":60.5,"v":47.17},{"s":"2011","d":61.5,"v":47.18},{"s":"2011","d":64,"v":47.16},{"s":"2011","d":66.6,"v":47.17},{"s":"2011","d":69.1,"v":47.11},{"s":"2011","d":70.6,"v":47.15},{"s":"2011","d":72.6,"v":47.1},{"s":"2011","d":74.6,"v":47.01},{"s":"2011","d":76.2,"v":46.96},{"s":"2011","d":78.2,"v":46.96},{"s":"2011","d":80.2,"v":46.93},{"s":"2011","d":82.7,"v":46.91},{"s":"2011","d":85.2,"v":46.95},{"s":"2011","d":87.8,"v":46.93},{"s":"2011","d":89.8,"v":46.91},{"s":"2011","d":92.3,"v":46.96},{"s":"2011","d":94.8,"v":46.95},{"s":"2011","d":97.4,"v":46.93},{"s":"2011","d":99.9,"v":46.91},{"s":"2011","d":101.9,"v":46.87},{"s":"2011","d":103.5,"v":46.89},{"s":"2011","d":105,"v":46.8},{"s":"2011","d":107.5,"v":46.84},{"s":"2011","d":110,"v":46.77},{"s":"2011","d":112.5,"v":46.76},{"s":"2011","d":114.5,"v":46.7},{"s":"2011","d":118.5,"v":46.7},{"s":"2011","d":120.6,"v":46.66},{"s":"2011","d":122.9,"v":46.61},{"s":"2011","d":125.2,"v":46.6},{"s":"2011","d":126.7,"v":46.61},{"s":"2011","d":130.4,"v":46.51},{"s":"2011","d":132.7,"v":46.52},{"s":"2011","d":135,"v":46.49},{"s":"2011","d":138,"v":46.45},{"s":"2011","d":141,"v":46.39},{"s":"2011","d":144,"v":46.35},{"s":"2011","d":146.3,"v":46.34},{"s":"2011","d":148.5,"v":46.34},{"s":"2011","d":150,"v":46.27},{"s":"2011","d":153.1,"v":46.26},{"s":"2011","d":155.3,"v":46.3},{"s":"2011","d":157.6,"v":46.24},{"s":"2011","d":160.6,"v":46.21},{"s":"2011","d":162.9,"v":46.22},{"s":"2011","d":165.1,"v":46.16},{"s":"2011","d":168.1,"v":46.13},{"s":"2011","d":170.4,"v":46.11},{"s":"2011","d":173.4,"v":46.09},{"s":"2011","d":175.7,"v":46.05},{"s":"2011","d":177.2,"v":46.07},{"s":"2011","d":179.1,"v":46.0},{"s":"2011","d":181.3,"v":45.99},{"s":"2011","d":183.6,"v":45.99},{"s":"2011","d":184.7,"v":45.97},{"s":"2011","d":187.7,"v":45.94},{"s":"2011","d":190,"v":45.93},{"s":"2011","d":193,"v":45.89},{"s":"2011","d":194.5,"v":45.89},{"s":"2011","d":196.8,"v":45.9},{"s":"2011","d":198.3,"v":45.89},{"s":"2011","d":201.3,"v":45.89},{"s":"2011","d":204.7,"v":45.91},{"s":"2011","d":206.6,"v":45.89},{"s":"2011","d":208.8,"v":45.89},{"s":"2011","d":211.8,"v":45.9},{"s":"2011","d":214.9,"v":45.92},{"s":"2011","d":217.1,"v":45.95},{"s":"2011","d":218.6,"v":45.97},{"s":"2011","d":220.1,"v":45.93},{"s":"2011","d":223.1,"v":45.93},{"s":"2011","d":225,"v":45.93},{"s":"2011","d":226.9,"v":45.9},{"s":"2011","d":229.9,"v":45.88},{"s":"2011","d":232.9,"v":45.85},{"s":"2011","d":234.6,"v":45.81},{"s":"2011","d":236.8,"v":45.87},{"s":"2011","d":239.9,"v":45.92},{"s":"2011","d":242.1,"v":45.91},{"s":"2011","d":246.6,"v":45.9},{"s":"2011","d":248.9,"v":45.86},{"s":"2011","d":253.4,"v":45.85},{"s":"2011","d":255.7,"v":45.82},{"s":"2011","d":257.9,"v":45.81},{"s":"2011","d":259.1,"v":45.83},{"s":"2011","d":261.7,"v":45.8},{"s":"2011","d":264,"v":45.77},{"s":"2011","d":266.2,"v":45.78},{"s":"2011","d":268.5,"v":45.75},{"s":"2011","d":270.8,"v":45.72},{"s":"2011","d":273,"v":45.7},{"s":"2011","d":274.5,"v":45.71},{"s":"2011","d":276.8,"v":45.67},{"s":"2011","d":279.8,"v":45.67},{"s":"2011","d":282.1,"v":45.68},{"s":"2011","d":283.6,"v":45.65},{"s":"2011","d":285.8,"v":45.64},{"s":"2011","d":288.8,"v":45.67},{"s":"2011","d":291.1,"v":45.67},{"s":"2011","d":293.4,"v":45.65},{"s":"2011","d":296,"v":45.67},{"s":"2011","d":298.6,"v":45.63},{"s":"2011","d":300.9,"v":45.6},{"s":"2011","d":303.2,"v":45.64},{"s":"2011","d":306.2,"v":45.65},{"s":"2011","d":308.4,"v":45.65},{"s":"2011","d":310.7,"v":45.69},{"s":"2011","d":313,"v":45.68},{"s":"2011","d":315.2,"v":45.69},{"s":"2011","d":316.7,"v":45.69},{"s":"2011","d":319,"v":45.65},{"s":"2011","d":321.3,"v":45.63},{"s":"2011","d":323.5,"v":45.65},{"s":"2011","d":325.8,"v":45.62},{"s":"2011","d":328,"v":45.59},{"s":"2011","d":331,"v":45.61},{"s":"2011","d":333.3,"v":45.57},{"s":"2011","d":335.6,"v":45.56},{"s":"2011","d":337.8,"v":45.65},{"s":"2011","d":339.3,"v":45.65},{"s":"2011","d":341.6,"v":45.69},{"s":"2011","d":344.6,"v":45.75},{"s":"2011","d":347.6,"v":45.84},{"s":"2011","d":349.5,"v":45.92},{"s":"2011","d":350.5,"v":46.05},{"s":"2011","d":351.3,"v":46.15},{"s":"2011","d":352.8,"v":46.25},{"s":"2011","d":354.3,"v":46.3},{"s":"2011","d":356.6,"v":46.33},{"s":"2011","d":358.8,"v":46.35},{"s":"2011","d":361.1,"v":46.37},{"s":"2011","d":363,"v":46.36},{"s":"2011","d":365.2,"v":46.42},
{"s":"min","d":2.8,"v":45.86},{"s":"min","d":10,"v":45.94},{"s":"min","d":23.9,"v":46.25},{"s":"min","d":30.5,"v":46.24},{"s":"min","d":41.7,"v":46.3},{"s":"min","d":52.2,"v":46.22},{"s":"min","d":59,"v":46.14},{"s":"min","d":92.5,"v":46.07},{"s":"min","d":105,"v":46.22},{"s":"min","d":115.5,"v":46.41},{"s":"min","d":125.8,"v":46.6},{"s":"min","d":129.7,"v":46.49},{"s":"min","d":136.8,"v":46.45},{"s":"min","d":141.7,"v":46.38},{"s":"min","d":159.1,"v":46.2},{"s":"min","d":163.6,"v":46.18},{"s":"min","d":169.3,"v":46.1},{"s":"min","d":183.2,"v":45.98},{"s":"min","d":193,"v":45.86},{"s":"min","d":199.8,"v":45.87},{"s":"min","d":223.5,"v":45.89},{"s":"min","d":232.9,"v":45.82},{"s":"min","d":236.8,"v":45.76},{"s":"min","d":244,"v":45.71},{"s":"min","d":251.2,"v":45.65},{"s":"min","d":257.9,"v":45.69},{"s":"min","d":273.8,"v":45.64},{"s":"min","d":284.3,"v":45.62},{"s":"min","d":287.4,"v":45.6},{"s":"min","d":295.3,"v":45.63},{"s":"min","d":300.9,"v":45.57},{"s":"min","d":304.3,"v":45.62},{"s":"min","d":319.7,"v":45.62},{"s":"min","d":335.9,"v":45.54},{"s":"min","d":346.1,"v":45.75},{"s":"min","d":352.8,"v":45.94},{"s":"min","d":365.2,"v":45.9}
]},
"layer": [
  {
    "encoding": {
      "x": {"field": "d", "type": "quantitative",
        "scale": {"domain": [0, 366], "nice": false, "zero": false},
        "axis": {
          "title": null,
          "values": [0,15.25,30.5,45.75,61,76.25,91.5,106.75,122,137.25,152.5,167.75,183,198.25,213.5,228.75,244,259.25,274.5,289.75,305,320.25,335.5,350.75,366],
          "tickCount": 60,
          "labelExpr": "round(datum.value/15.25) % 2 == 0 ? ['01-janv','31-janv','02-mars','01-avr','02-mai','01-juin','02-juil','01-août','01-sept','01-oct','01-nov','01-déc','01-janv'][round(datum.value/30.5)] : ''",
          "labelFont": "Liberation Sans", "labelFontSize": 18.5, "labelColor": "#000000",
          "labelOverlap": false, "labelFlush": false, "labelPadding": 8,
          "tickSize": 7, "tickColor": "#000000", "tickWidth": 1.5,
          "domain": false,
          "grid": true, "gridColor": "#c8c8c8", "gridWidth": 1.5,
          "gridOpacity": {"condition": {"test": "round(datum.value/15.25) % 2 == 1", "value": 0}, "value": 1}
        }},
      "y": {"field": "v", "type": "quantitative",
        "scale": {"domain": [44, 49], "nice": false, "zero": false},
        "axis": {
          "title": "Cote piézométrique (en m)",
          "titleFont": "Liberation Sans", "titleFontSize": 22.5, "titleFontWeight": "normal", "titleColor": "#000000",
          "titleX": -58, "titleY": 504, "titleAngle": 270, "titleAlign": "center", "titleBaseline": "alphabetic",
          "values": [44,44.1,44.2,44.3,44.4,44.5,44.6,44.7,44.8,44.9,45,45.1,45.2,45.3,45.4,45.5,45.6,45.7,45.8,45.9,46,46.1,46.2,46.3,46.4,46.5,46.6,46.7,46.8,46.9,47,47.1,47.2,47.3,47.4,47.5,47.6,47.7,47.8,47.9,48,48.1,48.2,48.3,48.4,48.5,48.6,48.7,48.8,48.9,49],
          "tickCount": 100,
          "labelExpr": "abs(datum.value*2 - round(datum.value*2)) < 0.01 ? format(datum.value, '.1f') : ''",
          "labelFont": "Liberation Sans", "labelFontSize": 18.5, "labelColor": "#000000",
          "labelOverlap": false, "labelFlush": false, "labelPadding": 12,
          "tickSize": 5, "tickColor": "#000000", "tickWidth": 1.5,
          "domain": false,
          "grid": true, "gridColor": "#c0c0c0", "gridWidth": 2.5,
          "gridOpacity": {"condition": {"test": "abs(datum.value*2 - round(datum.value*2)) > 0.01", "value": 0}, "value": 1}
        }},
      "color": {"field": "s", "type": "nominal", "title": null,
        "scale": {"domain": ["max","2017","2016","2015","2014","2013","2012","2011","min"],
                  "range": ["#ff0000","#0000ff","#000000","#ffff00","#66ff99","#66ffff","#ff7c80","#77933c","#ff0000"]},
        "legend": {
          "orient": "none", "legendX": 2, "legendY": 659,
          "fillColor": "#ffffff", "strokeColor": "#000000", "padding": 2.5,
          "symbolType": "M-1.6,0H1.6", "symbolSize": 1000, "symbolStrokeWidth": 4.5, "symbolOffset": 20.5,
          "labelOffset": 18, "labelFont": "Liberation Sans", "labelFontSize": 28.3, "labelColor": "#000000", "labelLimit": 1000,
          "rowPadding": 4.7,
          "labelExpr": "datum.label == 'max' ? 'Cote piézométrique max. interpolée de 2001 à 2016' : datum.label == 'min' ? 'Cote piézométrique minimum interpolée de 2001 à 2016' : 'Cote piézométrique ' + datum.label"
        }}
    },
    "layer": [
      {"transform": [{"filter": "datum.s == 'max'"}], "mark": {"type": "line", "strokeWidth": 6.5, "strokeJoin": "round", "strokeCap": "round"}},
      {"transform": [{"filter": "datum.s == '2017'"}], "mark": {"type": "line", "strokeWidth": 5, "strokeJoin": "round", "strokeCap": "round"}},
      {"transform": [{"filter": "indexof(['2016','2015','2014','2013','2012','2011'], datum.s) >= 0"}], "mark": {"type": "line", "strokeWidth": 3.3, "strokeJoin": "round", "strokeCap": "round"}},
      {"transform": [{"filter": "datum.s == 'min'"}], "mark": {"type": "line", "strokeWidth": 6.5, "strokeJoin": "round", "strokeCap": "round"}}
    ]
  },
  {
    "data": {"values": [{}]},
    "mark": {"type": "rect", "fill": "#ffffff", "stroke": "#000000", "strokeWidth": 3},
    "encoding": {"x": {"datum": 0, "type": "quantitative"}, "x2": {"datum": 252.7}, "y": {"datum": 49, "type": "quantitative"}, "y2": {"datum": 48.518}}
  },
  {
    "data": {"values": [{}]},
    "mark": {"type": "text", "text": "VARIATION DE LA PIEZOMETRIE DE LA NAPPE DU MIOCENE", "font": "Liberation Sans", "fontWeight": "bold", "fontSize": 37.8, "align": "left", "baseline": "alphabetic", "color": "#000000"},
    "encoding": {"x": {"datum": 2.03, "type": "quantitative"}, "y": {"datum": 48.794, "type": "quantitative"}}
  },
  {
    "data": {"values": [{}]},
    "mark": {"type": "text", "text": "08271X0298/PZ1\u00a0 - Forage BRGM - PESSAC (Gironde)", "font": "Liberation Sans", "fontWeight": "bold", "fontSize": 37.8, "align": "left", "baseline": "alphabetic", "color": "#000000"},
    "encoding": {"x": {"datum": 2.03, "type": "quantitative"}, "y": {"datum": 48.573, "type": "quantitative"}}
  },
  {
    "data": {"values": [{}]},
    "mark": {"type": "rule", "strokeWidth": 3, "color": "#000000"},
    "encoding": {"x": {"datum": 227.9, "type": "quantitative"}, "y": {"datum": 45.471, "type": "quantitative"}, "x2": {"datum": 214.7}, "y2": {"datum": 46.2}}
  },
  {
    "data": {"values": [{}]},
    "mark": {"type": "point", "shape": "M0,0L-0.75,2.2L0,1.7L0.75,2.2Z", "size": 475, "angle": 338.2, "filled": true, "color": "#000000", "opacity": 1, "strokeWidth": 0},
    "encoding": {"x": {"datum": 213.9, "type": "quantitative"}, "y": {"datum": 46.249, "type": "quantitative"}}
  },
  {
    "data": {"values": [{}]},
    "mark": {"type": "rect", "fill": "#ffffff", "stroke": "#000000", "strokeWidth": 2},
    "encoding": {"x": {"datum": 211.1, "type": "quantitative"}, "x2": {"datum": 263.1}, "y": {"datum": 45.476, "type": "quantitative"}, "y2": {"datum": 45.235}}
  },
  {
    "data": {"values": [{}]},
    "mark": {"type": "text", "text": "31 juillet 2017", "font": "Liberation Sans", "fontWeight": "bold", "fontSize": 32.5, "align": "center", "baseline": "alphabetic", "color": "#000000"},
    "encoding": {"x": {"datum": 237.2, "type": "quantitative"}, "y": {"datum": 45.3, "type": "quantitative"}}
  }
]
}
